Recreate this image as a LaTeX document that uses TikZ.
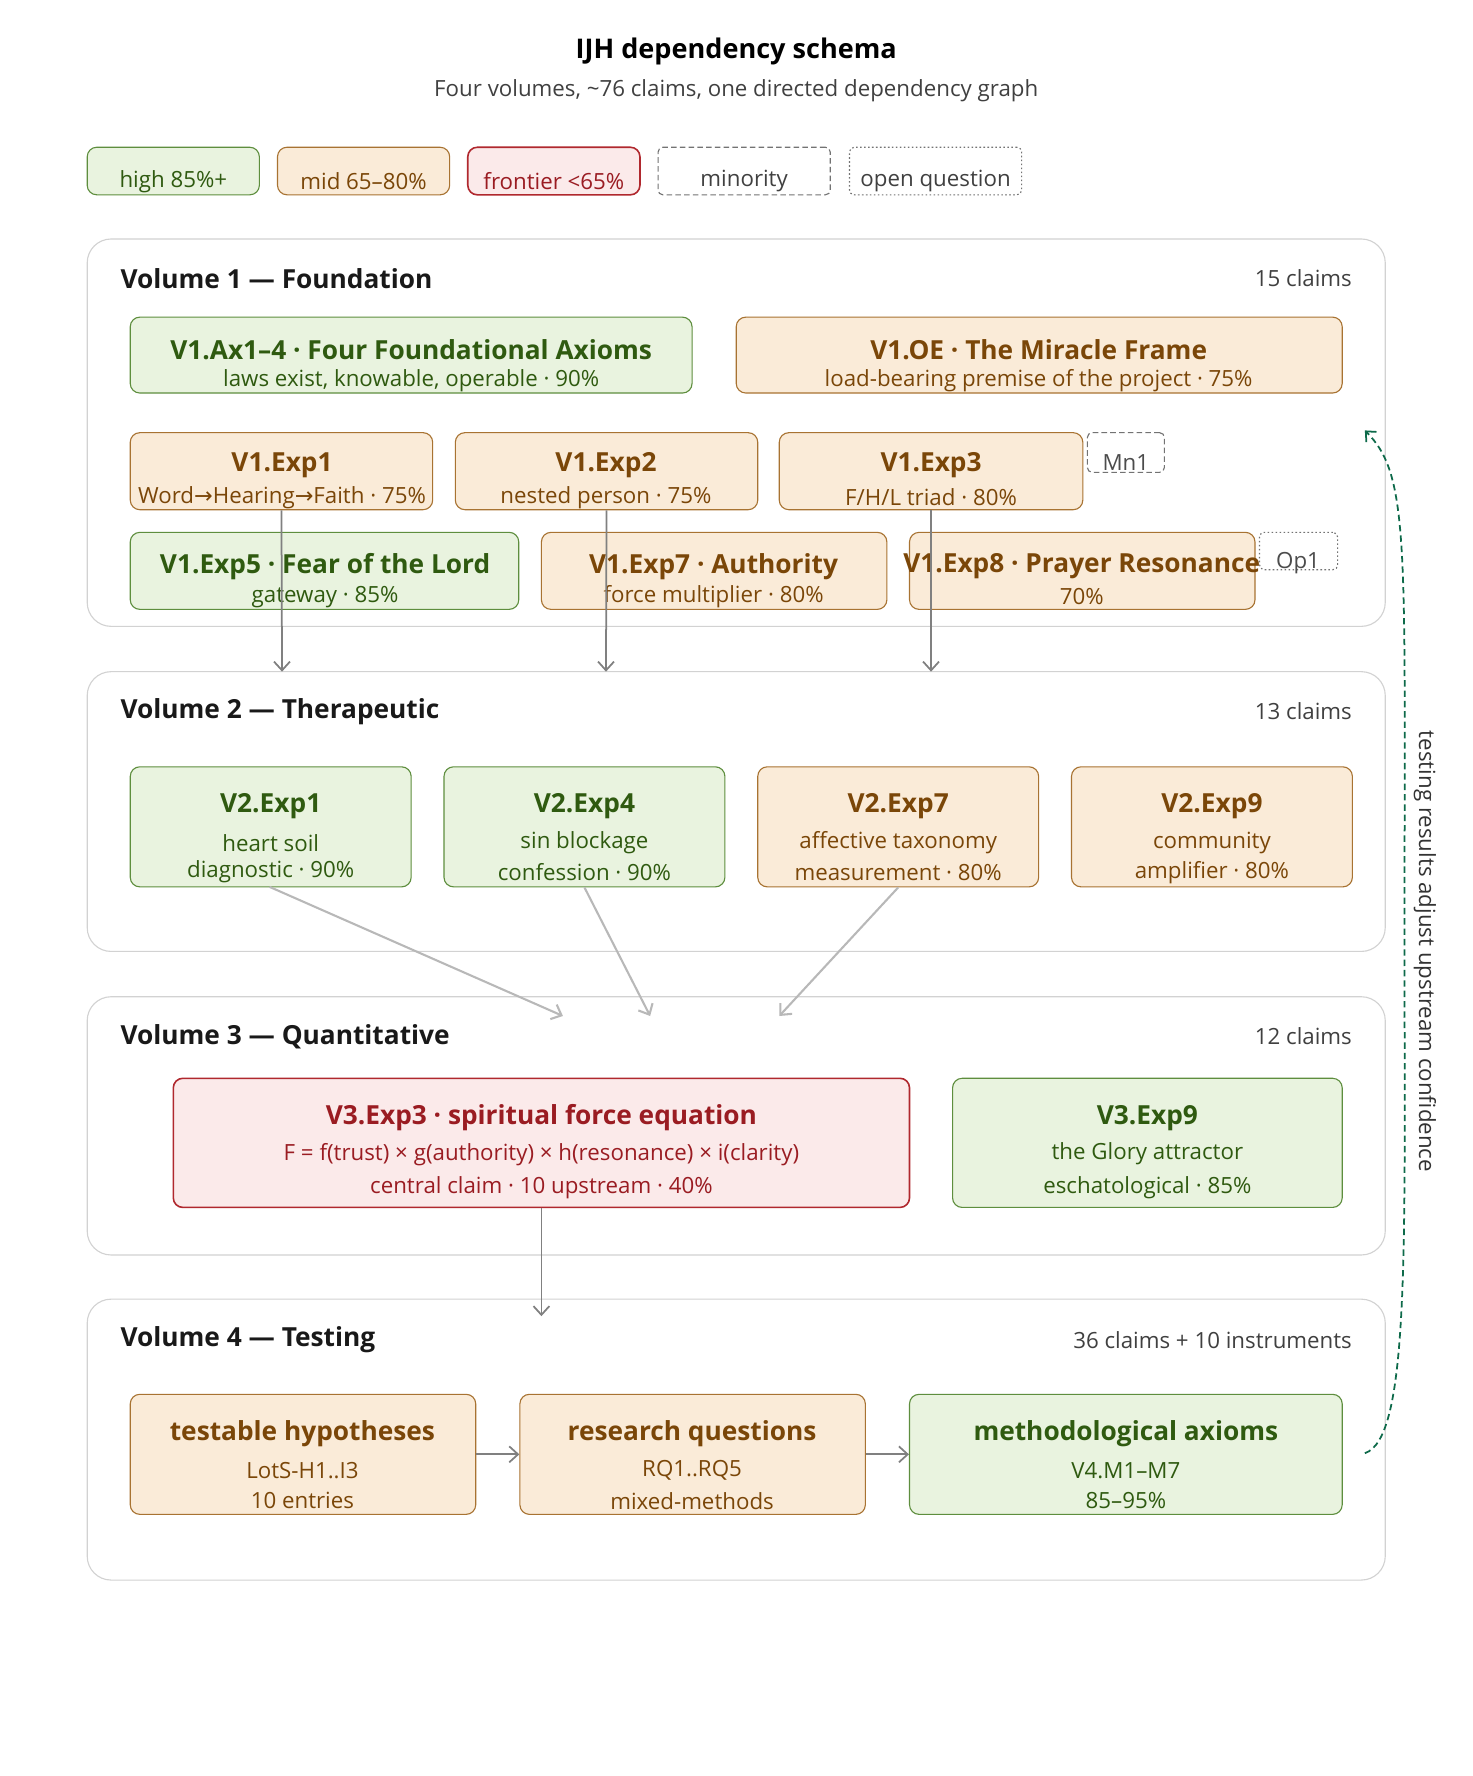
\documentclass[tikz,border=0pt]{standalone}
\usepackage{fontspec}
\setmainfont{Open Sans}
\newfontfamily\djvu{DejaVu Sans}
\usetikzlibrary{arrows.meta}
\definecolor{gF}{HTML}{E9F3DF}\definecolor{gD}{HTML}{5E8E3E}\definecolor{gT}{HTML}{2F5A10}
\definecolor{oF}{HTML}{FAEBD8}\definecolor{oD}{HTML}{A87332}\definecolor{oT}{HTML}{7A4608}
\definecolor{rF}{HTML}{FBEAEA}\definecolor{rD}{HTML}{B0282E}\definecolor{rT}{HTML}{9A1C22}
\definecolor{pD}{HTML}{D2D2D2}\definecolor{fb}{HTML}{0E6A4A}
\newcommand{\fs}[1]{\fontsize{#1}{#1}\selectfont}
\newcommand{\rarr}{{\djvu →}}
\tikzset{
 x=0.05cm,y=-0.05cm,
 base/.style={rectangle,rounded corners=12,line width=1.4pt,inner sep=0},
 G/.style={base,fill=gF,draw=gD},O/.style={base,fill=oF,draw=oD},R/.style={base,fill=rF,draw=rD,line width=2pt},
 panel/.style={rectangle,rounded corners=30,draw=pD,line width=1.4pt,fill=white,inner sep=0},
 mn/.style={base,rounded corners=6,draw=black!55,dash pattern=on 7pt off 4pt},op/.style={base,rounded corners=6,draw=black!55,dash pattern=on 2pt off 3pt},
 tg/.style={text=gT},to/.style={text=oT},tr/.style={text=rT},
 ttl/.style={font=\fs{33}\bfseries},sub/.style={font=\fs{28}},
 vt/.style={font=\fs{33}\bfseries,anchor=west,text=black!90},
 vc/.style={font=\fs{28},anchor=east,text=black!75},
 arr/.style={draw=black!50,line width=2.2pt,-{Straight Barb[length=11pt,width=20pt,line width=2.2pt]}},
 arl/.style={draw=black!28,line width=2.6pt,-{Straight Barb[length=11pt,width=20pt,line width=2.6pt]}},
}
\newcommand{\bx}[6]{\node[#2,minimum width={0.05cm*(#5-#3)},minimum height={0.05cm*(#6-#4)}] (#1) at ({(#3+#5)/2},{(#4+#6)/2}) {};}
\begin{document}
\begin{tikzpicture}
\useasboundingbox[fill=white] (0,0) rectangle (1300,1568);
\node[font=\fs{34}\bfseries] (title) at (650,45) {IJH dependency schema};
\node[font=\fs{28},text=black!75] (subt) at (650,80) {Four volumes, \textasciitilde76 claims, one directed dependency graph};
% legend
\bx{lh}{G}{77}{130}{229}{172}\node[tg,font=\fs{28}] at (153,160) {high 85\%+};
\bx{lm}{O}{245}{130}{397}{172}\node[to,font=\fs{28}] at (321,160) {mid 65–80\%};
\bx{lf}{R}{413}{130}{565}{172}\node[tr,font=\fs{28}] at (489,160) {frontier <65\%};
\bx{lmi}{mn}{581}{130}{733}{172}\node[text=black!75,font=\fs{28}] at (657,160) {minority};
\bx{lop}{op}{750}{130}{902}{172}\node[text=black!75,font=\fs{28}] at (826,160) {open question};
% panels
\bx{p1}{panel}{77}{211}{1223}{553}
\node[vt] at (104,246) {Volume 1 — Foundation};\node[vc] at (1196,246) {15 claims};
\bx{p2}{panel}{77}{593}{1223}{840}
\node[vt] at (104,628) {Volume 2 — Therapeutic};\node[vc] at (1196,628) {13 claims};
\bx{p3}{panel}{77}{880}{1223}{1108}
\node[vt] at (104,915) {Volume 3 — Quantitative};\node[vc] at (1196,915) {12 claims};
\bx{p4}{panel}{77}{1147}{1223}{1395}
\node[vt] at (104,1183) {Volume 4 — Testing};\node[vc] at (1196,1183) {36 claims + 10 instruments};
% V1
\bx{ax}{G}{115}{280}{611}{347}\node[tg,ttl] at (363,309) {V1.Ax1–4 · Four Foundational Axioms};\node[tg,sub] at (363,336) {laws exist, knowable, operable · 90\%};
\bx{oe}{O}{650}{280}{1185}{347}\node[to,ttl] at (917,309) {V1.OE · The Miracle Frame};\node[to,sub] at (917,336) {load-bearing premise of the project · 75\%};
\bx{e1}{O}{115}{382}{382}{450}\node[to,ttl] at (249,411) {V1.Exp1};\node[to,sub] at (249,439) {Word\rarr Hearing\rarr Faith · 75\%};
\bx{e2}{O}{402}{382}{669}{450}\node[to,ttl] at (535,411) {V1.Exp2};\node[to,sub] at (535,439) {nested person · 75\%};
\bx{e3}{O}{688}{382}{956}{450}\node[to,ttl] at (822,411) {V1.Exp3};\node[to,sub] at (822,439) {F/H/L triad · 80\%};
\bx{mn1}{mn}{960}{382}{1028}{417}\node[text=black!70,font=\fs{28}] at (994,408) {Mn1};
\bx{e5}{G}{115}{470}{458}{538}\node[tg,ttl] at (287,500) {V1.Exp5 · Fear of the Lord};\node[tg,sub] at (287,527) {gateway · 85\%};
\bx{e7}{O}{478}{470}{783}{538}\node[to,ttl] at (630,500) {V1.Exp7 · Authority};\node[to,sub] at (630,527) {force multiplier · 80\%};
\bx{e8}{O}{803}{470}{1108}{538}\node[to,ttl] at (955,500) {V1.Exp8 · Prayer Resonance};\node[to,sub] at (955,527) {70\%};
\bx{op1}{op}{1112}{470}{1181}{503}\node[text=black!70,font=\fs{28}] at (1146,497) {Op1};
\coordinate (d1) at (249,593);\coordinate (d2) at (535,593);\coordinate (d3) at (822,593);
\draw[arr] (e1.south) -- (d1);\draw[arr] (e2.south) -- (d2);\draw[arr] (e3.south) -- (d3);
% V2
\bx{f1}{G}{115}{677}{363}{783}\node[tg,ttl] at (239,712) {V2.Exp1};\node[tg,sub] at (239,744) {heart soil};\node[tg,sub] at (239,770) {diagnostic · 90\%};
\bx{f4}{G}{392}{677}{640}{783}\node[tg,ttl] at (516,712) {V2.Exp4};\node[tg,sub] at (516,744) {sin blockage};\node[tg,sub] at (516,770) {confession · 90\%};
\bx{f7}{O}{669}{677}{917}{783}\node[to,ttl] at (793,712) {V2.Exp7};\node[to,sub] at (793,744) {affective taxonomy};\node[to,sub] at (793,770) {measurement · 80\%};
\bx{f9}{O}{946}{677}{1194}{783}\node[to,ttl] at (1070,712) {V2.Exp9};\node[to,sub] at (1070,744) {community};\node[to,sub] at (1070,770) {amplifier · 80\%};
\coordinate (t1) at (497,897);\coordinate (t2) at (574,897);\coordinate (t3) at (688,897);
\draw[arl] (238,783) -- (t1);\draw[arl] (f4.south) -- (t2);\draw[arl] (f7.south) -- (t3);
% V3
\bx{g3}{R}{153}{952}{803}{1066}\node[tr,ttl] at (478,987) {V3.Exp3 · spiritual force equation};
\node[tr,sub] at (478,1019) {F = f(trust) × g(authority) × h(resonance) × i(clarity)};\node[tr,sub] at (478,1049) {central claim · 10 upstream · 40\%};
\bx{g9}{G}{841}{952}{1185}{1066}\node[tg,ttl] at (1013,987) {V3.Exp9};\node[tg,sub] at (1013,1019) {the Glory attractor};\node[tg,sub] at (1013,1049) {eschatological · 85\%};
\coordinate (t4) at (478,1162);
\draw[arr] (g3.south) -- (t4);
% V4
\bx{h1}{O}{115}{1231}{420}{1337}\node[to,ttl] at (267,1266) {testable hypotheses};\node[to,sub] at (267,1298) {LotS-H1..I3};\node[to,sub] at (267,1325) {10 entries};
\bx{h2}{O}{459}{1231}{764}{1337}\node[to,ttl] at (611,1266) {research questions};\node[to,sub] at (611,1298) {RQ1..RQ5};\node[to,sub] at (611,1325) {mixed-methods};
\bx{h3}{G}{803}{1231}{1185}{1337}\node[tg,ttl] at (994,1266) {methodological axioms};\node[tg,sub] at (994,1298) {V4.M1–M7};\node[tg,sub] at (994,1325) {85–95\%};
\draw[arr] (h1) -- (h2);\draw[arr] (h2) -- (h3);
% feedback
\coordinate (fa) at (1205,1283);\coordinate (fb) at (1205,380);
\draw[fb,line width=2.2pt,dash pattern=on 8pt off 5pt,-{Straight Barb[length=10pt,width=18pt,line width=2.2pt]}] (fa) .. controls (1245,1270) and (1240,1100) .. (1240,830) .. controls (1240,480) and (1245,420) .. (fb);
\node[rotate=-90,font=\fs{28},text=black!80] (fl) at (1258,840) {testing results adjust upstream confidence};
\end{tikzpicture}
\end{document}
